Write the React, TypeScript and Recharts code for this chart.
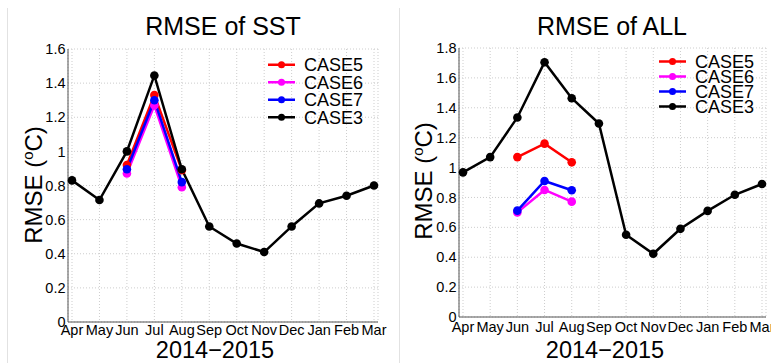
import { LineChart, Line, XAxis, YAxis, CartesianGrid, Legend } from "recharts";

const months = ["Apr", "May", "Jun", "Jul", "Aug", "Sep", "Oct", "Nov", "Dec", "Jan", "Feb", "Mar"];

// RMSE of SST
const sstCase5 = [null, null, 0.92, 1.33, 0.89, null, null, null, null, null, null, null];
const sstCase6 = [null, null, 0.87, 1.27, 0.79, null, null, null, null, null, null, null];
const sstCase7 = [null, null, 0.895, 1.30, 0.82, null, null, null, null, null, null, null];
const sstCase3 = [0.83, 0.715, 1.0, 1.445, 0.895, 0.56, 0.46, 0.41, 0.56, 0.695, 0.74, 0.80];
const sstTicks = [0, 0.2, 0.4, 0.6, 0.8, 1, 1.2, 1.4, 1.6];

// RMSE of ALL
const allCase5 = [null, null, 1.07, 1.16, 1.035, null, null, null, null, null, null, null];
const allCase6 = [null, null, 0.70, 0.85, 0.772, null, null, null, null, null, null, null];
const allCase7 = [null, null, 0.712, 0.91, 0.848, null, null, null, null, null, null, null];
const allCase3 = [0.968, 1.07, 1.335, 1.705, 1.464, 1.295, 0.55, 0.423, 0.59, 0.71, 0.818, 0.89];
const allTicks = [0, 0.2, 0.4, 0.6, 0.8, 1, 1.2, 1.4, 1.6, 1.8];

const series = [
  { key: "case5", name: "CASE5", color: "#ff0000" },
  { key: "case6", name: "CASE6", color: "#ff00ff" },
  { key: "case7", name: "CASE7", color: "#0000ff" },
  { key: "case3", name: "CASE3", color: "#000000" },
];

const font = "'Liberation Sans', Arial, Helvetica, sans-serif";

const buildData = (c5: any[], c6: any[], c7: any[], c3: any[]) =>
  months.map((m, i) => ({ month: m, case5: c5[i], case6: c6[i], case7: c7[i], case3: c3[i] }));

// keep legend rows in plotting order, not sorted by name
const makeLegend = (rowH: number) => (props: any) => {
  const payload = props.payload || [];
  const items = series
    .map((s) => payload.find((p: any) => p.value === s.name))
    .filter(Boolean);
  return (
    <svg width={120} height={rowH * items.length + 4} style={{ display: "block" }}>
      {items.map((it: any, i: number) => {
        const y = rowH / 2 + i * rowH + 1;
        return (
          <g key={it.value}>
            <line x1={2} x2={29} y1={y} y2={y} stroke={it.color} strokeWidth={2.5} />
            <circle cx={15.5} cy={y} r={3.5} fill={it.color} />
            <text x={38} y={y} dy="0.36em" fontSize={18} fontFamily={font} fill="#000">
              {it.value}
            </text>
          </g>
        );
      })}
    </svg>
  );
};

type PanelProps = {
  left: number;
  title: string;
  titleX: number;
  data: any[];
  ticks: number[];
  margin: { top: number; right: number; bottom: number; left: number };
  xTickMargin: number;
  legendPos: { top: number; left: number };
  legendRow: number;
  yLabelY: number;
  xLabelX: number;
};

const Panel = (p: PanelProps) => (
  <div style={{ position: "absolute", left: p.left, top: 0, width: 390, height: 363 }}>
    <LineChart width={390} height={363} data={p.data} margin={p.margin}>
      <CartesianGrid stroke="#cdcdcd" strokeDasharray="1 2" />
      <XAxis
        dataKey="month"
        height={20}
        padding={{ left: 4, right: 4 }}
        tickLine={false}
        tickSize={0}
        tickMargin={p.xTickMargin}
        interval={0}
        stroke="#555"
        tick={{ fill: "#000", fontSize: 14.5, fontFamily: font }}
      />
      <XAxis xAxisId="top" dataKey="month" orientation="top" height={0} tick={false} tickLine={false} stroke="#555" />
      <YAxis
        domain={[0, p.ticks[p.ticks.length - 1]]}
        ticks={p.ticks}
        width={40}
        tickLine={false}
        tickSize={0}
        tickMargin={2.5}
        stroke="#555"
        tick={{ fill: "#000", fontSize: 14.5, fontFamily: font }}
      />
      <YAxis yAxisId="right" orientation="right" width={0} tick={false} tickLine={false} stroke="#555" />
      <Legend
        layout="vertical"
        verticalAlign="middle"
        align="center"
        itemSorter={null}
        content={makeLegend(p.legendRow)}
        wrapperStyle={{ top: p.legendPos.top, left: p.legendPos.left, width: 120, right: "auto", bottom: "auto" }}
      />
      {series.map((s) => (
        <Line
          key={s.key}
          dataKey={s.key}
          name={s.name}
          stroke={s.color}
          strokeWidth={2.5}
          dot={{ r: 4.3, fill: s.color, stroke: "none" }}
          activeDot={false}
          isAnimationActive={false}
        />
      ))}
    </LineChart>
    <svg width={390} height={363} style={{ position: "absolute", left: 0, top: 0, pointerEvents: "none" }}>
      <text x={p.titleX} y={35} textAnchor="middle" fontSize={25} fontFamily={font} fill="#000">
        {p.title}
      </text>
      <text
        x={0}
        y={0}
        transform={`translate(42, ${p.yLabelY}) rotate(-90)`}
        textAnchor="middle"
        fontSize={24}
        fontFamily={font}
        fill="#000"
      >
        RMSE (<tspan dy={-9} fontSize={15}>o</tspan>
        <tspan dy={9}>C)</tspan>
      </text>
      <text x={p.xLabelX} y={358} textAnchor="middle" fontSize={23.5} fontFamily={font} fill="#000">
        2014−2015
      </text>
    </svg>
  </div>
);

export default function App() {
  return (
    <div
      style={{
        position: "fixed",
        left: 0,
        top: 0,
        width: 771,
        height: 363,
        overflow: "hidden",
        background: "#fff",
      }}
    >
      <div style={{ position: "absolute", left: 7, top: 8, width: 1, height: 355, background: "#e2e2e2" }} />
      <div style={{ position: "absolute", left: 399, top: 8, width: 1, height: 355, background: "#e2e2e2" }} />
      <Panel
        left={0}
        title="RMSE of SST"
        titleX={223}
        data={buildData(sstCase5, sstCase6, sstCase7, sstCase3)}
        ticks={sstTicks}
        margin={{ top: 49, right: 12, bottom: 21, left: 28 }}
        xTickMargin={3}
        legendPos={{ top: 55, left: 266 }}
        legendRow={17.5}
        yLabelY={185}
        xLabelX={215}
      />
      <Panel
        left={390}
        title="RMSE of ALL"
        titleX={222}
        data={buildData(allCase5, allCase6, allCase7, allCase3)}
        ticks={allTicks}
        margin={{ top: 48, right: 14, bottom: 26, left: 29 }}
        xTickMargin={5}
        legendPos={{ top: 53, left: 267 }}
        legendRow={15}
        yLabelY={181}
        xLabelX={215}
      />
    </div>
  );
}
